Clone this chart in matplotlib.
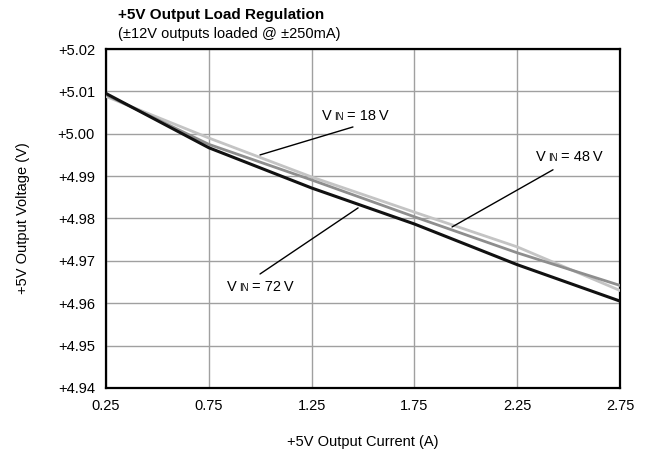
import matplotlib
matplotlib.use("Agg")
import matplotlib.pyplot as plt
from matplotlib.offsetbox import TextArea, HPacker, AnnotationBbox
from matplotlib import font_manager

names = {f.name for f in font_manager.fontManager.ttflist}
FONT = "Liberation Sans Narrow" if "Liberation Sans Narrow" in names else "Liberation Sans"
plt.rcParams["font.family"] = [FONT, "DejaVu Sans"]

current = [0.25, 0.75, 1.25, 1.75, 2.25, 2.75]
v18 = [5.0088, 4.9990, 4.9898, 4.9815, 4.9733, 4.9630]
v48 = [5.0092, 4.9975, 4.9891, 4.9804, 4.9719, 4.9642]
v72 = [5.0095, 4.9967, 4.9872, 4.9787, 4.9691, 4.9605]
xticks = [0.25, 0.75, 1.25, 1.75, 2.25, 2.75]
yticks = [4.94, 4.95, 4.96, 4.97, 4.98, 4.99, 5.00, 5.01, 5.02]
ylabels = ["+%.2f" % v for v in yticks]

fig = plt.figure(figsize=(6.46, 4.61), dpi=100)
ax = fig.add_axes([0.1641, 0.1584, 0.7957, 0.7353])

ax.plot(current, v18, color="#c4c4c4", lw=2.0, zorder=3)
ax.plot(current, v48, color="#8e8e8e", lw=2.0, zorder=4)
ax.plot(current, v72, color="#111111", lw=2.2, zorder=5)

ax.set_xlim(0.25, 2.75)
ax.set_ylim(4.94, 5.02)
ax.set_xticks(xticks)
ax.set_xticklabels(["%.2f" % v for v in xticks])
ax.set_yticks(yticks)
ax.set_yticklabels(ylabels)
ax.tick_params(length=0, labelsize=10.5, pad=8)
ax.grid(True, color="#a0a0a0", lw=1.0)
for s in ax.spines.values():
    s.set_linewidth(1.6)
    s.set_color("black")

ax.set_xlabel("+5V Output Current (A)", fontsize=10.5, labelpad=16)
ax.set_ylabel("+5V Output Voltage (V)", fontsize=10.5, labelpad=20)

fig.text(118 / 646, 1 - 15 / 461, "+5V Output Load Regulation", fontsize=11,
         fontweight="bold", ha="left", va="center")
fig.text(118 / 646, 1 - 34 / 461, "(\u00b112V outputs loaded @ \u00b1250mA)", fontsize=10.5,
         ha="left", va="center")


def vin_label(xy, val):
    parts = [TextArea("V", textprops=dict(fontsize=10.5)),
             TextArea("IN", textprops=dict(fontsize=7)),
             TextArea("= %d\u2009V" % val, textprops=dict(fontsize=10.5))]
    box = HPacker(children=parts, align="baseline", pad=0, sep=2)
    ab = AnnotationBbox(box, xy, xycoords="data", frameon=False, box_alignment=(0.5, 0.5), zorder=6)
    ax.add_artist(ab)


def leader(p0, p1):
    ax.annotate("", xy=p0, xytext=p1, arrowprops=dict(arrowstyle="-", lw=1.0, color="black",
                                                       shrinkA=0, shrinkB=0), zorder=6)


leader((0.999, 4.9950), (1.451, 5.0016))
vin_label((1.461, 5.0042), 18)
leader((1.933, 4.9780), (2.424, 4.9915))
vin_label((2.502, 4.9944), 48)
leader((0.999, 4.9669), (1.476, 4.9825))
vin_label((0.999, 4.9638), 72)

fig.savefig("out.png", dpi=100)
